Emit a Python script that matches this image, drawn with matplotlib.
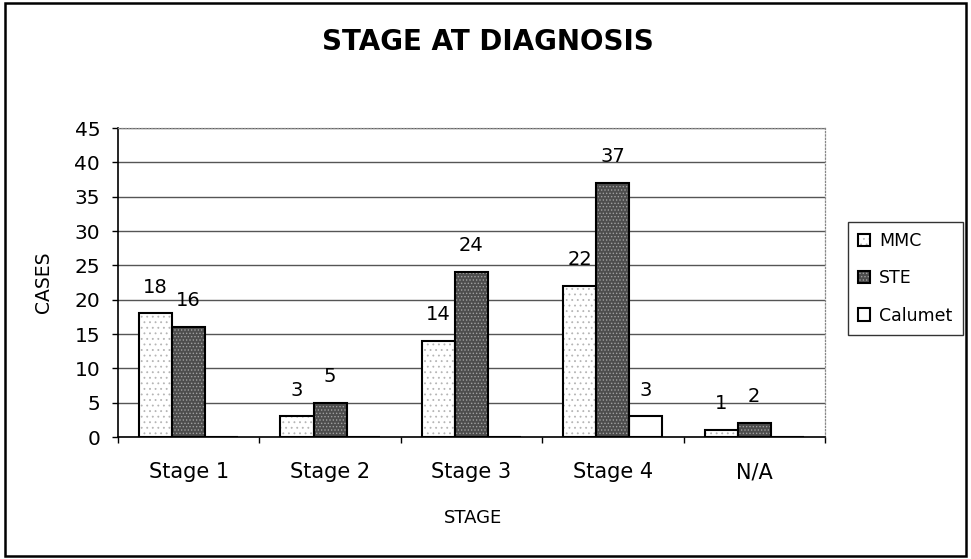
import matplotlib
matplotlib.use('Agg')
import matplotlib.pyplot as plt
from matplotlib.patches import Rectangle
import numpy as np

# ---- data ----
categories = ['Stage 1', 'Stage 2', 'Stage 3', 'Stage 4', 'N/A']
series_names = ['MMC', 'STE', 'Calumet']
mmc = [18, 3, 14, 22, 1]
ste = [16, 5, 24, 37, 2]
calumet = [0, 0, 0, 3, 0]
y_ticks = [0, 5, 10, 15, 20, 25, 30, 35, 40, 45]
title_text = 'STAGE AT DIAGNOSIS'
x_label = 'STAGE'
y_label = 'CASES'

plt.rcParams['font.family'] = ['DejaVu Sans']
plt.rcParams['hatch.linewidth'] = 0.6

fig = plt.figure(figsize=(9.71, 5.59), dpi=100)
ax = fig.add_axes([0.1215, 0.2182, 0.7281, 0.5528])

styles = [
    dict(face='white', hatch='...', hcol='#b5b5b5'),
    dict(face='#4d4d4d', hatch='.....', hcol='#a0a0a0'),
    dict(face='white', hatch='', hcol='white'),
]
width = 0.234
x = np.arange(len(categories))
handles = []
for k, (vals, st) in enumerate(zip([mmc, ste, calumet], styles)):
    pos = x + (k - 1) * width
    fill = ax.bar(pos, vals, width, color=st['face'], hatch=st['hatch'],
                  edgecolor=st['hcol'], linewidth=0, zorder=2)
    outline = ax.bar(pos, vals, width, fill=False, edgecolor='black',
                     linewidth=1.5, zorder=3)
    handles.append((fill[0], outline[0]))
    for xi, v in zip(pos, vals):
        if v > 0:
            ax.annotate(str(v), (xi, v), xytext=(0, 19), textcoords='offset points',
                        ha='center', va='center', fontsize=14, color='black')

ax.set_xlim(-0.5, len(categories) - 0.5)
ax.set_ylim(0, 45)
ax.set_yticks(y_ticks)
ax.set_yticklabels([str(t) for t in y_ticks])
ax.set_xticks(x)
ax.set_xticklabels(categories, fontsize=15)
ax.set_xticks(np.arange(-0.5, len(categories), 1.0), minor=True)
ax.tick_params(axis='x', which='major', length=0, pad=18)
ax.tick_params(axis='x', which='minor', length=4, width=1, direction='out', color='black')
ax.tick_params(axis='y', length=4.3, width=1, direction='out', pad=8.5, labelsize=14.5)
ax.yaxis.grid(True, color='#555555', linewidth=1.0)
ax.set_axisbelow(True)
for s in ['top', 'right']:
    ax.spines[s].set_linestyle(':')
    ax.spines[s].set_color('#888888')
    ax.spines[s].set_linewidth(0.9)
for s in ['left', 'bottom']:
    ax.spines[s].set_color('black')
    ax.spines[s].set_linewidth(1.2)

leg = fig.legend(handles, series_names, loc='upper left',
                 bbox_to_anchor=(0.873, 0.603), bbox_transform=fig.transFigure,
                 frameon=True, fancybox=False, edgecolor='black', fontsize=12.5,
                 handlelength=0.7, handleheight=0.7, handletextpad=0.5,
                 borderpad=0.6, labelspacing=1.1, borderaxespad=0)
leg.get_frame().set_linewidth(1.0)

fig.text(0.5026, 0.9249, title_text, ha='center', va='center', fontsize=20, fontweight='bold')
fig.text(0.487, 0.0733, x_label, ha='center', va='center', fontsize=13)
fig.text(0.0443, 0.4955, y_label, ha='center', va='center', fontsize=13.5, rotation=90)

fig.patches.append(Rectangle((5 / 971, 3 / 559), 961 / 971, 553 / 559,
                             transform=fig.transFigure, fill=False,
                             edgecolor='black', linewidth=1.8))

fig.savefig('out.png', dpi=100)
